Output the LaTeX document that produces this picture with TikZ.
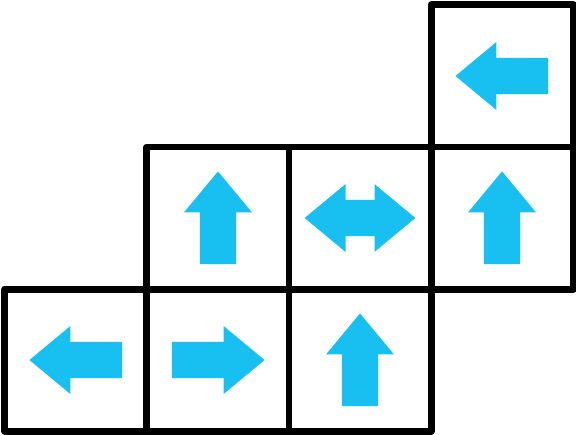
\documentclass[tikz,border=0pt]{standalone}
\definecolor{arrowblue}{RGB}{24,192,242}
\tikzset{
    cellbox/.style={draw=black, line width=1.4pt, line join=round},
    arrowfill/.style={fill=arrowblue},
    onearrow/.pic={
        \fill[arrowfill] (-0.325,-0.127) -- (0.04,-0.127) -- (0.04,-0.239) -- (0.328,0)
            -- (0.04,0.239) -- (0.04,0.127) -- (-0.325,0.127) -- cycle;
    },
    twoarrow/.pic={
        \fill[arrowfill] (-0.39,0) -- (-0.102,0.239) -- (-0.102,0.127) -- (0.102,0.127)
            -- (0.102,0.239) -- (0.39,0) -- (0.102,-0.239) -- (0.102,-0.127)
            -- (-0.102,-0.127) -- (-0.102,-0.239) -- cycle;
    }
}
\begin{document}
\begin{tikzpicture}[x=1cm,y=1cm]
    \useasboundingbox (-0.035,-0.021) rectangle (4.021,3.035);

    % cells of the staircase
    \foreach \c/\r in {0/0,1/0,2/0,1/1,2/1,3/1,3/2}
    {
        \draw[cellbox] (\c,\r) rectangle (\c+1,\r+1);
    }

    % single arrows: column/row/direction
    \foreach \c/\r/\ang in {0/0/180,1/0/0,2/0/90,1/1/90,3/1/90,3/2/180}
    {
        \pic[rotate=\ang] at (\c+0.5,\r+0.5) {onearrow};
    }
    \pic at (2.5,1.5) {twoarrow};
\end{tikzpicture}
\end{document}
